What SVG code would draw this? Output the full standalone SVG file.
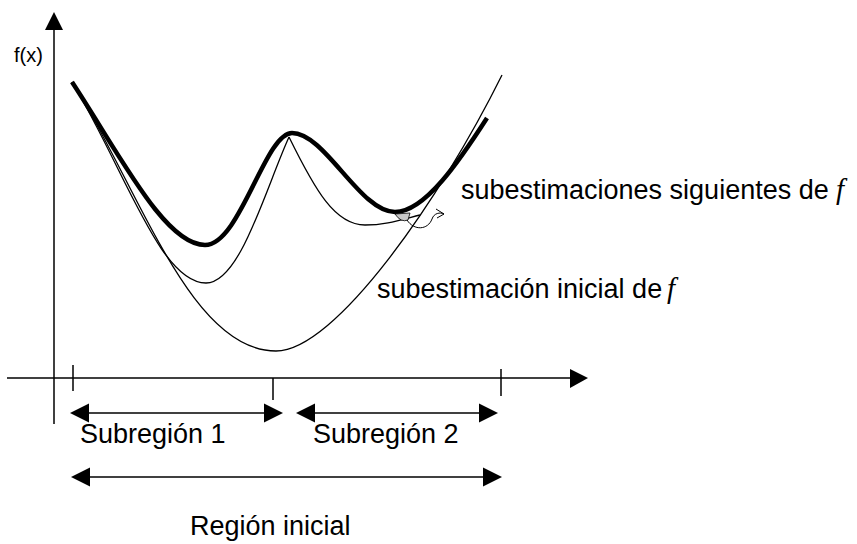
<svg xmlns="http://www.w3.org/2000/svg" width="857" height="544" viewBox="0 0 857 544">
<defs>
<style>
.ax{stroke:#000;stroke-width:1.5;fill:none}
.thin{stroke:#000;stroke-width:1.3;fill:none}
.thick{stroke:#000;stroke-width:4.5;fill:none;stroke-linecap:butt}
.t{font-family:"Liberation Sans",Arial,sans-serif;font-size:27px;fill:#000}
.fi{font-family:"Liberation Serif","Times New Roman",serif;font-style:italic;font-size:29px;fill:#000}
</style>
</defs>
<g id="axes">
<line class="ax" x1="54" y1="424" x2="54" y2="30"/>
<polygon points="54,12 45,30 63,30" fill="#000"/>
<line class="ax" x1="7" y1="378" x2="570" y2="378"/>
<polygon points="588,378 570,369 570,388" fill="#000"/>
<line class="ax" x1="73" y1="365" x2="73" y2="391"/>
<line class="ax" x1="273" y1="378" x2="273" y2="400"/>
<line class="ax" x1="501" y1="369" x2="501" y2="396"/>
<text class="t" x="14" y="62" style="font-size:20px">f(x)</text>
</g>
<g id="curves">
<path class="thin" d="M72,82 C140,190 190,351 276,351 C335,351 440,200 502,75"/>
<path class="thin" d="M72,82 C125,170 160,283 206,283 C240,283 265,190 289,137"/>
<path class="thin" d="M289,137 C315,190 335,225 365,225 C385,225 400,220 420,215"/>
<path class="thick" d="M72,82 C120,155 165,245 205,245 C240,245 265,133 292,133 C325,133 360,212 395,212 C425,212 460,160 487,118"/>
<path d="M395,214 L410,213 L408,220 Q401,223 395,214 Z" fill="#c8c8c8" stroke="#000" stroke-width="0.8"/>
<path d="M407,220 C414,231 428,230 432,219 C434,213 440,212 444,214" stroke="#000" stroke-width="1" fill="none"/>
<path d="M444,214 L436,209 M444,214 L437,218" stroke="#000" stroke-width="1" fill="none"/>
</g>
<g id="connectors">
<line class="ax" x1="88" y1="413" x2="265" y2="413"/>
<polygon points="70,413 89,403.5 89,422.5" fill="#000"/>
<polygon points="283,413 264,403.5 264,422.5" fill="#000"/>
<line class="ax" x1="314" y1="413" x2="480" y2="413"/>
<polygon points="296,413 315,403.5 315,422.5" fill="#000"/>
<polygon points="498,413 479,403.5 479,422.5" fill="#000"/>
<line class="ax" x1="89" y1="477" x2="484" y2="477"/>
<polygon points="71,477 90,467.5 90,486.5" fill="#000"/>
<polygon points="502,477 483,467.5 483,486.5" fill="#000"/>
</g>
<g id="labels">
<text class="t" x="461" y="199">subestimaciones siguientes de</text>
<text class="fi" x="836" y="199">f</text>
<text class="t" x="377" y="298">subestimación inicial de</text>
<text class="fi" x="667" y="298">f</text>
<text class="t" x="80" y="443">Subregión 1</text>
<text class="t" x="313" y="443">Subregión 2</text>
<text class="t" x="190" y="535">Región inicial</text>
</g>
</svg>
